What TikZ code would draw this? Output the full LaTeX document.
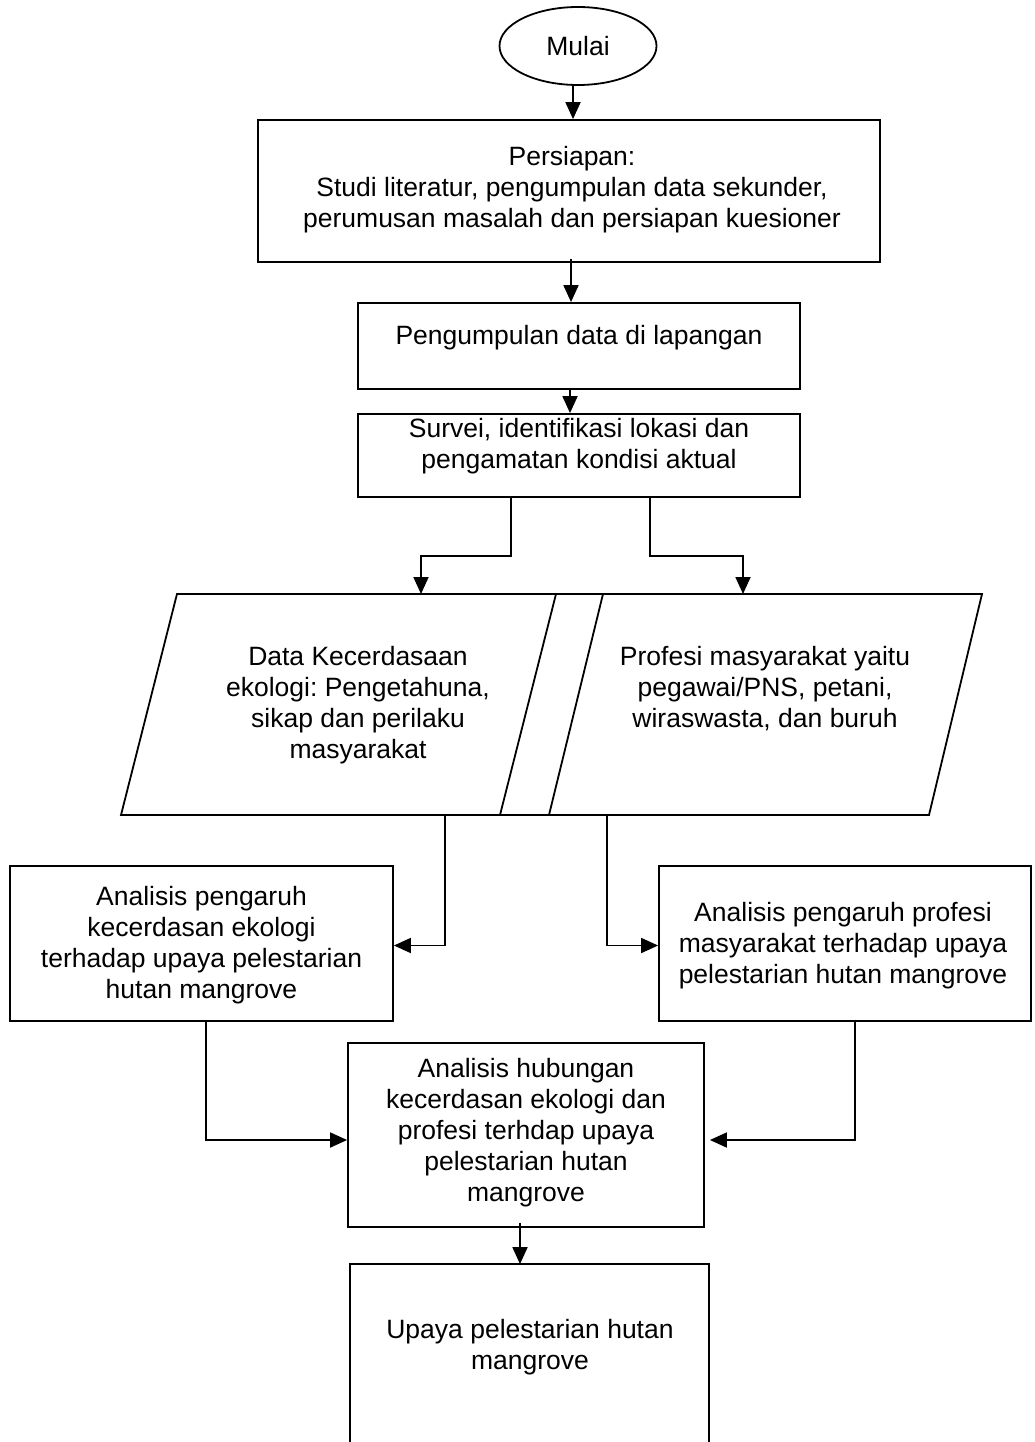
\documentclass[tikz,border=0pt]{standalone}
\usepackage{fontspec}
\setmainfont{Liberation Sans}
\usetikzlibrary{arrows.meta,shapes.geometric,calc}
\frenchspacing
\begin{document}
\begin{tikzpicture}[x=1pt,y=-1pt,line width=1.8pt,
  box/.style={draw,rectangle,inner sep=0pt},
  txt/.style={align=center,font=\fontsize{26.5}{31}\selectfont,inner sep=0pt},
  arr/.style={-{Triangle[length=17pt,width=15pt]},line width=1.8pt}]
\useasboundingbox (0,0) rectangle (1034,1442);

% start
\node[draw,ellipse,minimum width=157pt,minimum height=78pt,inner sep=0pt,txt] (mulai) at (578,46) {Mulai};

% boxes
\node[box,minimum width=622pt,minimum height=142pt] (persiapan) at (569,191) {};
\node[txt] (tpersiapan) at (572,190) {Persiapan:\\Studi literatur, pengumpulan data sekunder,\\perumusan masalah dan persiapan kuesioner};

\node[box,minimum width=442pt,minimum height=86pt] (pengumpulan) at (579,346) {};
\node[txt] (tpengumpulan) at (579,338) {Pengumpulan data di lapangan};

\node[box,minimum width=442pt,minimum height=83pt] (survei) at (579,455.5) {};
\node[txt] (tsurvei) at (579,446) {Survei, identifikasi lokasi dan\\pengamatan kondisi aktual};

% data parallelograms
\draw (177,594) -- (556,594) -- (500,815) -- (121,815) -- cycle;
\draw (603,594) -- (982,594) -- (929,815) -- (549,815) -- cycle;
\draw (556,594) -- (603,594);
\draw (500,815) -- (549,815);
\coordinate (dataLtop) at (421,594);
\coordinate (dataRtop) at (743,594);
\coordinate (dataLbot) at (445,815);
\coordinate (dataRbot) at (607,815);
\node[txt] (dataL) at (358,705) {Data Kecerdasaan\\ekologi: Pengetahuna,\\sikap dan perilaku\\masyarakat};
\node[txt] (dataR) at (765,689) {Profesi masyarakat yaitu\\pegawai/PNS, petani,\\wiraswasta, dan buruh};

% analysis boxes
\node[box,minimum width=383pt,minimum height=155pt] (anaL) at (201.5,943.5) {};
\node[txt] (tanaL) at (201.5,945) {Analisis pengaruh\\kecerdasan ekologi\\terhadap upaya pelestarian\\hutan mangrove};

\node[box,minimum width=372pt,minimum height=155pt] (anaR) at (845,943.5) {};
\node[txt] (tanaR) at (843,946) {Analisis pengaruh profesi\\masyarakat terhadap upaya\\pelestarian hutan mangrove};

\node[box,minimum width=356pt,minimum height=184pt] (anaC) at (526,1135) {};
\node[txt] (tanaC) at (526,1133) {Analisis hubungan\\kecerdasan ekologi dan\\profesi terhdap upaya\\pelestarian hutan\\mangrove};

% final (open at the bottom)
\node[minimum width=357pt,minimum height=190pt,inner sep=0pt] (akhir) at (529.5,1360) {};
\draw (akhir.south west) -- (akhir.north west) -- (akhir.north east) -- (akhir.south east);
\node[txt] (takhir) at (530,1347) {Upaya pelestarian hutan\\mangrove};

% connectors
\draw[arr] ([xshift=-5pt]mulai.south) -- ([xshift=-5pt]mulai.south |- persiapan.north);
\draw[arr] ([xshift=2pt,yshift=4pt]persiapan.south) -- ([xshift=2pt]persiapan.south |- pengumpulan.north);
\draw[arr] ([xshift=-9pt]pengumpulan.south) -- ([xshift=-9pt]pengumpulan.south |- survei.north);
\draw[arr] ([xshift=-68pt]survei.south) -- ++(0,58) -| (dataLtop);
\draw[arr] ([xshift=71pt]survei.south) -- ++(0,58) -| (dataRtop);
\draw[arr] (dataLbot) |- ([yshift=-2pt]anaL.east);
\draw[arr] (dataRbot) |- ([yshift=-2pt]anaR.west);
\draw[arr] ([xshift=4.5pt]anaL.south) |- ([yshift=-5pt]anaC.west);
\draw[arr] ([xshift=10pt]anaR.south) |- ([xshift=5pt,yshift=-5pt]anaC.east);
\draw[arr] ([xshift=-6pt,yshift=5pt]anaC.south) -- ([xshift=-6pt]anaC.south |- akhir.north);
\end{tikzpicture}
\end{document}
